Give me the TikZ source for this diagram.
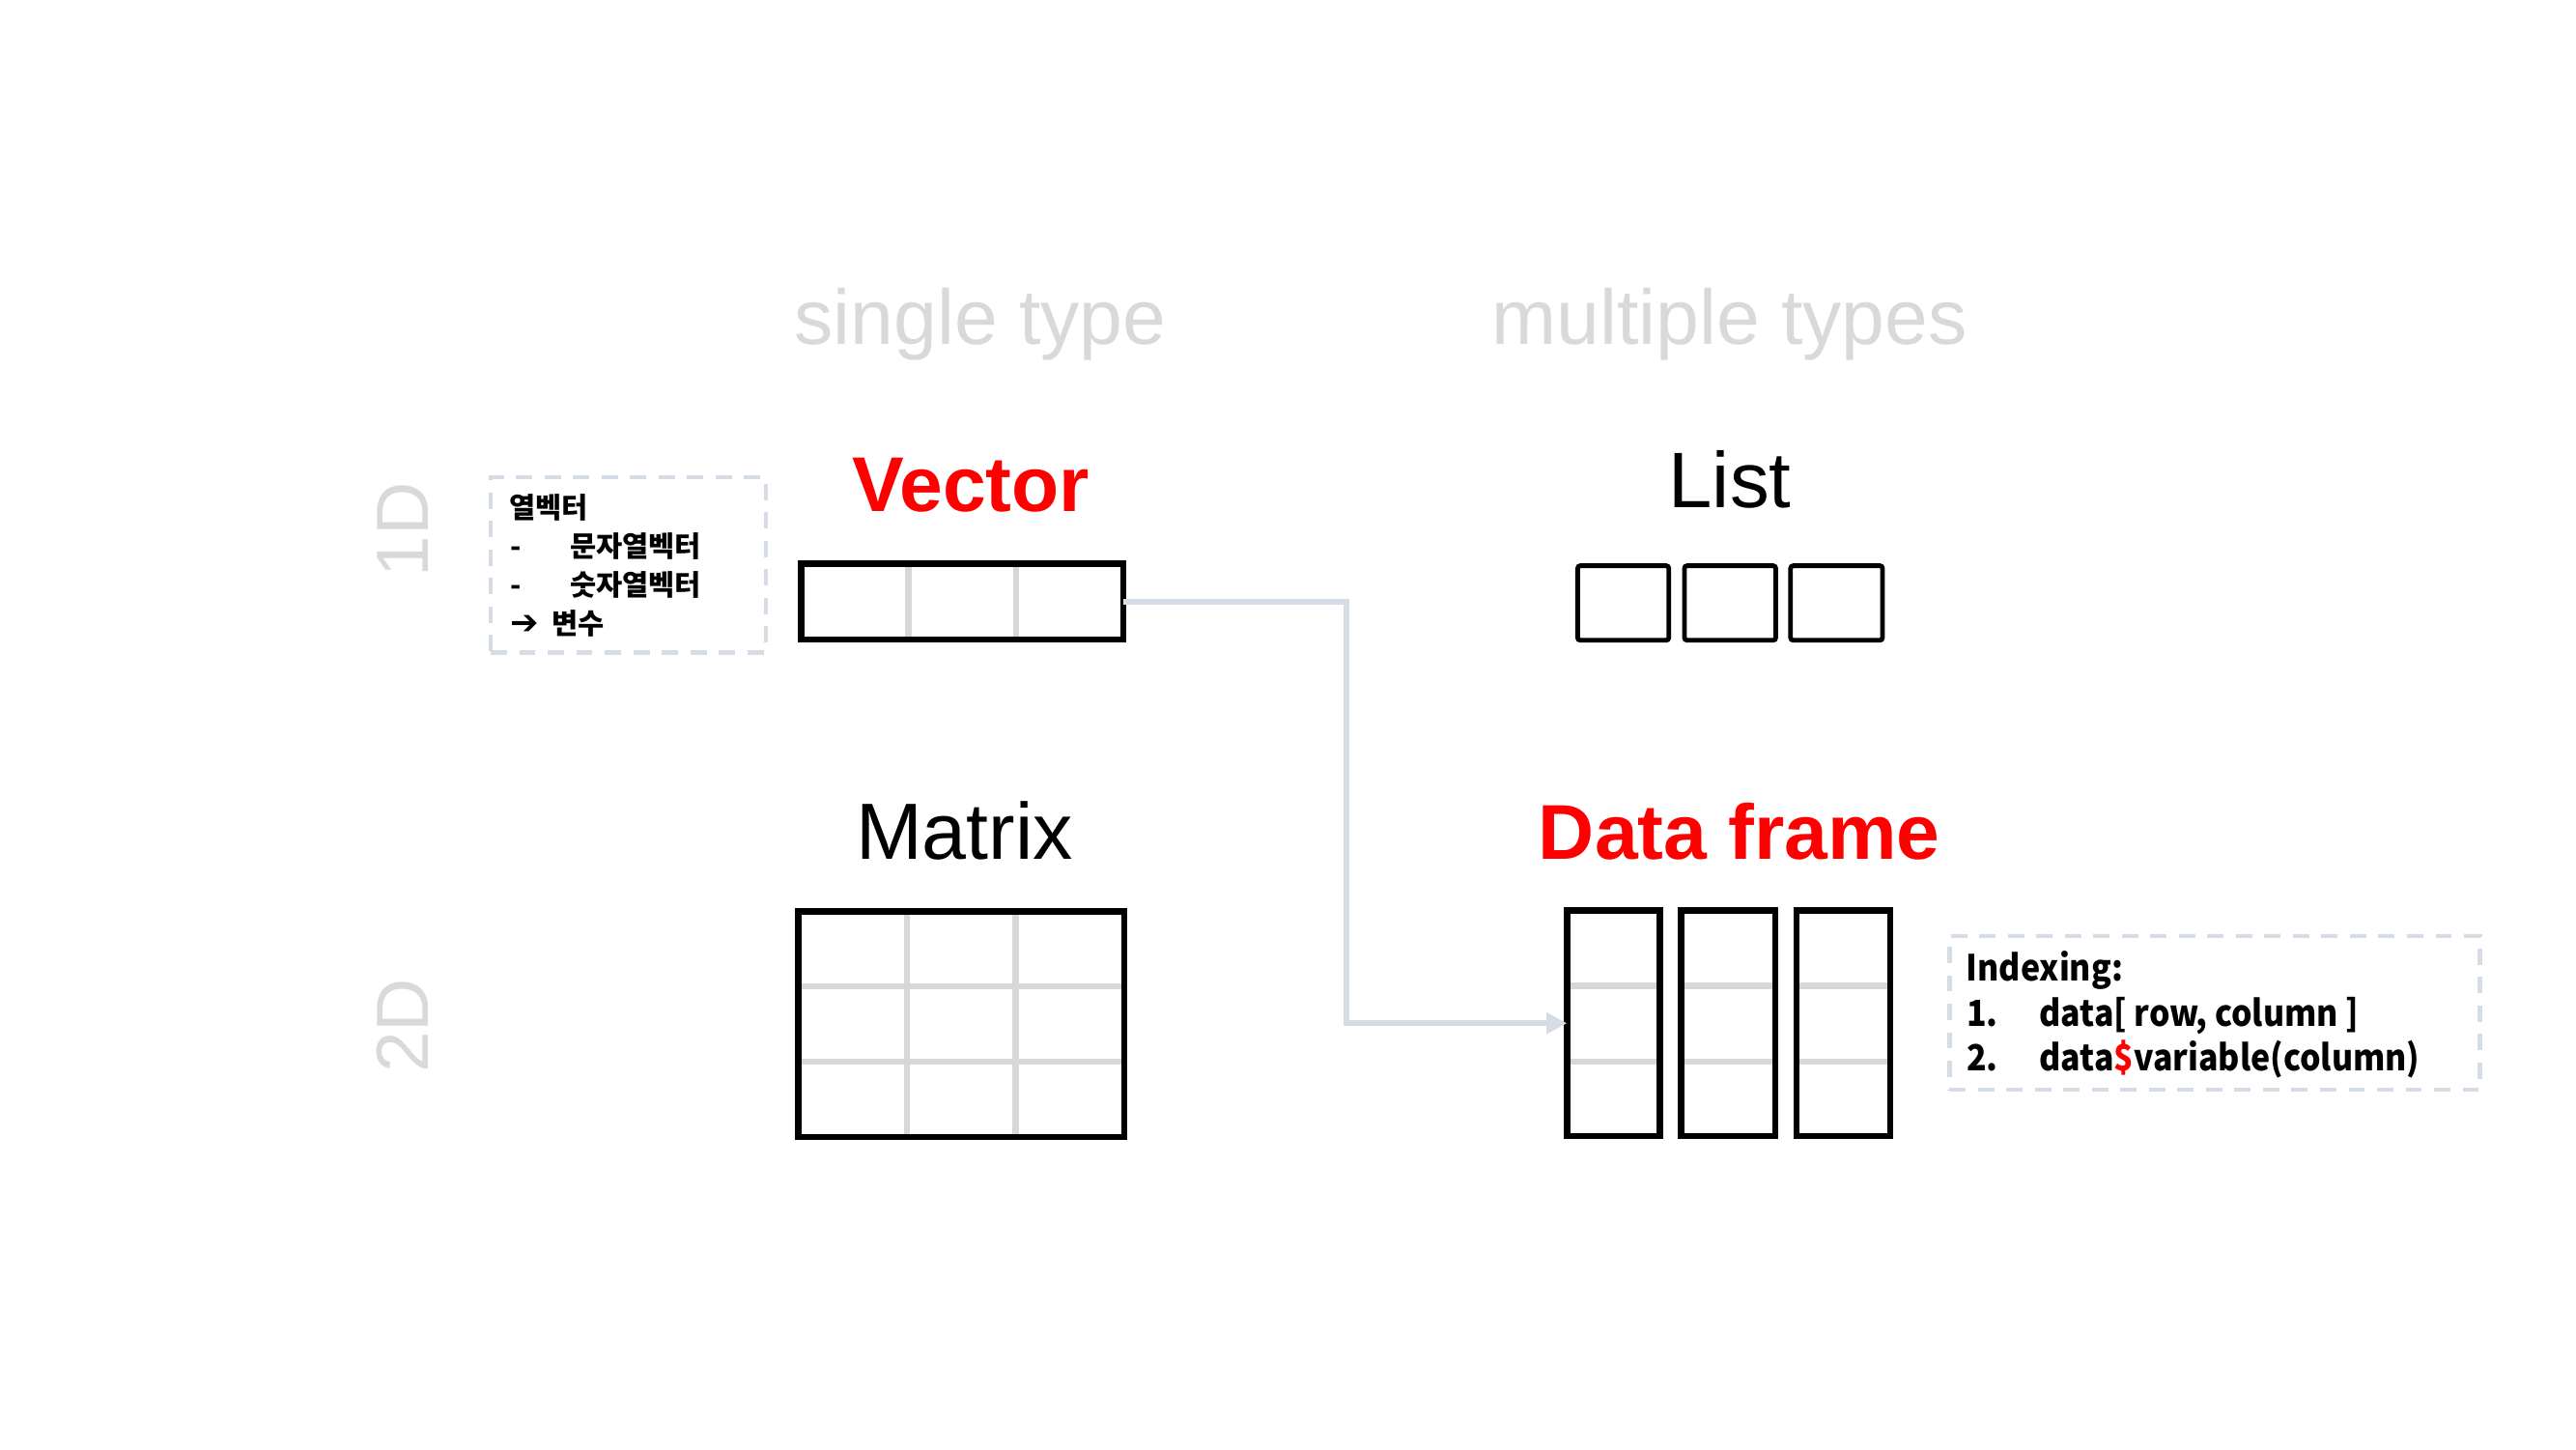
\documentclass[tikz,border=0pt]{standalone}
\usepackage{fontspec}
\setmainfont{Liberation Sans}
\newfontfamily\krfont{Noto Sans CJK KR}
\newfontfamily\idxfont[FakeStretch=0.91]{Noto Sans CJK KR}
\newfontfamily\dvfont{DejaVu Sans}
\usetikzlibrary{fit,arrows.meta}
\definecolor{tgray}{RGB}{217,217,217}
\definecolor{lgray}{RGB}{215,215,215}
\definecolor{bgray}{RGB}{214,220,229}
\definecolor{pred}{RGB}{255,0,0}
\pgfdeclarelayer{bg}
\pgfsetlayers{bg,main}
\begin{document}
\begin{tikzpicture}[x=0.01701cm,y=-0.01701cm,
  box/.style={draw=black,line width=1.85pt,inner sep=0pt,outer sep=0pt},
  lbox/.style={draw=black,line width=1.37pt,inner sep=0pt,outer sep=0pt,rounded corners=0.8pt},
  divider/.style={draw=lgray,line width=1.8pt},
  note/.style={draw=bgray,line width=1.3pt,dash pattern=on 4.8pt off 3.6pt,inner sep=0pt,outer sep=0pt},
  conn/.style={draw=bgray,line width=1.8pt,-{Triangle[length=6pt,width=6pt]}},
  head/.style={text=tgray,font=\fontsize{22.9pt}{26pt}\selectfont,anchor=base,inner sep=0pt},
  dimlabel/.style={text=tgray,font=\fontsize{21.8pt}{24pt}\selectfont,anchor=base,inner sep=0pt,rotate=90},
  redtitle/.style={text=pred,font=\bfseries\fontsize{22.9pt}{26pt}\selectfont,anchor=base,inner sep=0pt},
  blacktitle/.style={text=black,anchor=base,inner sep=0pt},
  krline/.style={font=\krfont\bfseries\fontsize{8.4pt}{10pt}\selectfont,anchor=base west,inner sep=0pt},
  idx/.style={font=\idxfont\bfseries\fontsize{10.6pt}{13pt}\selectfont,anchor=base west,inner sep=0pt}]
\useasboundingbox (0,0) rectangle (1568,882);
\begin{pgfonlayer}{bg}
\fill[white] (0,0) rectangle (1568,882);
\end{pgfonlayer}

% column headings
\node[head] (single) at (596.7,209.7) {single type};
\node[head] (multi) at (1052.8,209.7) {multiple types};

% row labels
\node[dimlabel] (oneD) at (261,322.3) {1D};
\node[dimlabel] (twoD) at (261,624.4) {2D};

% titles
\node[redtitle] (tvec) at (590.9,311.6) {Vector};
\node[blacktitle,font=\fontsize{23.2pt}{26pt}\selectfont] (tlist) at (1053,309.2) {List};
\node[blacktitle,font=\fontsize{23.5pt}{26pt}\selectfont] (tmat) at (587,522.8) {Matrix};
\node[redtitle] (tdf) at (1058.8,523.2) {Data frame};

% Vector
\node[box,fit={(487.6,343.2) (683.9,389.2)}] (vec) {};
\begin{pgfonlayer}{bg}
\draw[divider] (553,343.2) -- (553,389.2);
\draw[divider] (618.5,343.2) -- (618.5,389.2);
\end{pgfonlayer}

% List
\node[lbox,fit={(960.3,344.3) (1015.8,389.7)}] (l1) {};
\node[lbox,fit={(1025.3,344.3) (1080.9,389.7)}] (l2) {};
\node[lbox,fit={(1089.9,344.3) (1145.9,389.7)}] (l3) {};

% Matrix
\node[box,fit={(485.8,554.6) (684.3,692.1)}] (mat) {};
\begin{pgfonlayer}{bg}
\draw[divider] (552,554.6) -- (552,692.1);
\draw[divider] (618.2,554.6) -- (618.2,692.1);
\draw[divider] (485.8,600.4) -- (684.3,600.4);
\draw[divider] (485.8,646.3) -- (684.3,646.3);
\end{pgfonlayer}

% Data frame
\node[box,fit={(953.8,554.2) (1010.2,691.3)}] (d1) {};
\node[box,fit={(1023.4,554.2) (1080.6,691.3)}] (d2) {};
\node[box,fit={(1093.4,554.2) (1150.6,691.3)}] (d3) {};
\begin{pgfonlayer}{bg}
\foreach \xa/\xb in {953.8/1010.2,1023.4/1080.6,1093.4/1150.6}{
  \draw[divider] (\xa,600) -- (\xb,600);
  \draw[divider] (\xa,646) -- (\xb,646);
}
\end{pgfonlayer}

% connector
\coordinate (bend) at (819.4,366.2);
\draw[conn] (vec.east) -- (bend) |- (d1.west);

% Korean note
\node[note,fit={(298.7,290.4) (466.3,397)}] (knote) {};
\node[krline] (k1) at (309.8,315.4) {열벡터};
\node[krline] (k2) at (310.4,338.8) {\makebox[17.5pt][l]{-}문자열벡터};
\node[krline] (k3) at (310.4,362.3) {\makebox[17.5pt][l]{-}숫자열벡터};
\node[krline] (k4) at (310.4,385.8) {\makebox[12.1pt][l]{{\dvfont\bfseries\fontsize{10pt}{10pt}\selectfont ➔}}변수};

% Indexing note
\node[note,fit={(1186.6,569.6) (1509.6,663.2)}] (inote) {};
\node[idx] (i0) at (1196.5,597.3) {Indexing:};
\node[idx] (i1) at (1196.7,624.5) {\makebox[21.5pt][l]{1.}data[ row, column ]};
\node[idx] (i2) at (1196.7,652) {\makebox[21.5pt][l]{2.}data\textcolor{pred}{\$}variable(column)};
\end{tikzpicture}
\end{document}
